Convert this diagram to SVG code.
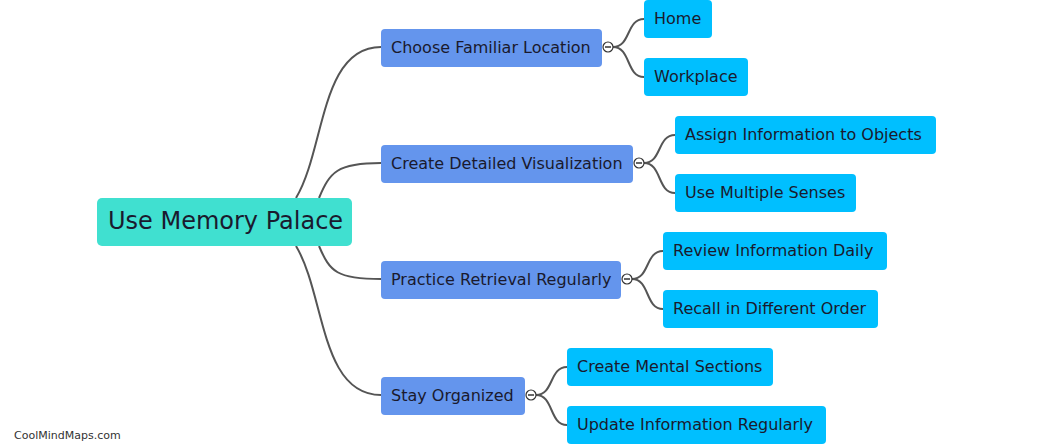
<svg xmlns="http://www.w3.org/2000/svg" width="1045" height="444" viewBox="0 0 1045 444">
<style>
.root{fill:#40E0D0}
.l1{fill:#6495ED}
.l2{fill:#00BFFF}
text{font-family:"DejaVu Sans",Verdana,sans-serif;fill:#1a1a2e}
.t1{font-size:16px}
.t0{font-size:24px}
.edge{fill:none;stroke:#555;stroke-width:2}
.tog circle{fill:#fff;stroke:#333;stroke-width:1.2}
.tog line{stroke:#333;stroke-width:1.5}
.wm{font-size:11px;fill:#333}
</style>
<rect width="1045" height="444" fill="#fff"/>
<g id="connectors">
<path class="edge" d="M296,198 C325,150 320,47 381,47"/>
<path class="edge" d="M319,198 C330,172 337,163 381,163"/>
<path class="edge" d="M319,246 C330,272 337,279 381,279"/>
<path class="edge" d="M296,246 C325,294 320,395 381,395"/>
<path class="edge" d="M613,47 C631,47 626,19 644,19"/>
<path class="edge" d="M613,47 C631,47 626,77 644,77"/>
<path class="edge" d="M644,163 C662,163 657,135 675,135"/>
<path class="edge" d="M644,163 C662,163 657,193 675,193"/>
<path class="edge" d="M632,279 C650,279 645,251 663,251"/>
<path class="edge" d="M632,279 C650,279 645,309 663,309"/>
<path class="edge" d="M536,395 C554,395 549,367 567,367"/>
<path class="edge" d="M536,395 C554,395 549,425 567,425"/>
</g>
<g id="root"><rect class="root" x="97" y="198" width="255" height="48" rx="5"/><text class="t0" x="108" y="229">Use Memory Palace</text></g>
<g id="n1"><rect class="l1" x="381" y="29" width="221" height="38" rx="4"/><text class="t1" x="391" y="52.5">Choose Familiar Location</text></g>
<g id="n2"><rect class="l1" x="381" y="145" width="252" height="38" rx="4"/><text class="t1" x="391" y="168.5">Create Detailed Visualization</text></g>
<g id="n3"><rect class="l1" x="381" y="261" width="240" height="38" rx="4"/><text class="t1" x="391" y="284.5">Practice Retrieval Regularly</text></g>
<g id="n4"><rect class="l1" x="381" y="377" width="144" height="38" rx="4"/><text class="t1" x="391" y="400.5">Stay Organized</text></g>
<g id="n1a"><rect class="l2" x="644" y="0" width="68" height="38" rx="4"/><text class="t1" x="654" y="23.5">Home</text></g>
<g id="n1b"><rect class="l2" x="644" y="58" width="104" height="38" rx="4"/><text class="t1" x="654" y="81.5">Workplace</text></g>
<g id="n2a"><rect class="l2" x="675" y="116" width="261" height="38" rx="4"/><text class="t1" x="685" y="139.5">Assign Information to Objects</text></g>
<g id="n2b"><rect class="l2" x="675" y="174" width="181" height="38" rx="4"/><text class="t1" x="685" y="197.5">Use Multiple Senses</text></g>
<g id="n3a"><rect class="l2" x="663" y="232" width="224" height="38" rx="4"/><text class="t1" x="673" y="255.5">Review Information Daily</text></g>
<g id="n3b"><rect class="l2" x="663" y="290" width="215" height="38" rx="4"/><text class="t1" x="673" y="313.5">Recall in Different Order</text></g>
<g id="n4a"><rect class="l2" x="567" y="348" width="206" height="38" rx="4"/><text class="t1" x="577" y="371.5">Create Mental Sections</text></g>
<g id="n4b"><rect class="l2" x="567" y="406" width="259" height="38" rx="4"/><text class="t1" x="577" y="429.5">Update Information Regularly</text></g>
<g id="toggles" class="tog">
<g><circle cx="608" cy="47" r="5"/><line x1="605" y1="47" x2="611" y2="47"/></g>
<g><circle cx="639" cy="163" r="5"/><line x1="636" y1="163" x2="642" y2="163"/></g>
<g><circle cx="627" cy="279" r="5"/><line x1="624" y1="279" x2="630" y2="279"/></g>
<g><circle cx="531" cy="395" r="5"/><line x1="528" y1="395" x2="534" y2="395"/></g>
</g>
<text class="wm" x="14" y="439">CoolMindMaps.com</text>
</svg>
